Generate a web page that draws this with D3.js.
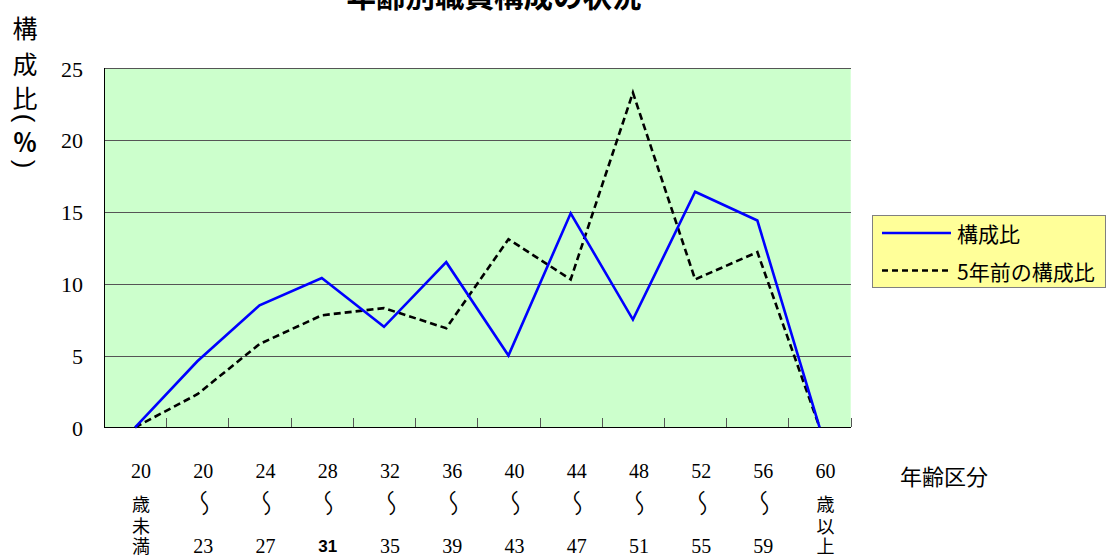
<!DOCTYPE html>
<html><head><meta charset="utf-8">
<script src="https://cdn.jsdelivr.net/npm/d3@7"></script>
<style>
html,body{margin:0;padding:0;background:#fff;}
svg{display:block;}
</style>
</head><body>
<svg id="chart" width="1110" height="556"></svg>
<script>
const categories = ["20歳未満","20〜23","24〜27","28〜31","32〜35","36〜39","40〜43","44〜47","48〜51","52〜55","56〜59","60歳以上"];
const current = [0,4.6,8.5,10.4,7.0,11.5,5.0,14.9,7.5,16.4,14.4,0];
const fiveYearsAgo = [0,2.3,5.8,7.8,8.3,6.9,13.1,10.3,23.3,10.3,12.2,0];
const yTicks = [0,5,10,15,20,25];
const seriesNames = ["構成比","5年前の構成比"];
const title = "年齢別職員構成の状況";
const yTitle = ["構","成","比","(","％",")"];
const xTitle = "年齢区分";

const JP = "'Noto Sans CJK JP', sans-serif";
const SERIF = "'Liberation Serif', 'DejaVu Serif', serif";

const svg = d3.select("#chart");
const L = 104, R = 850.7, T = 68.3, B = 427.3;

const x = d3.scaleBand().domain(categories).range([L, R]).padding(0);
const xb = d3.scaleLinear().domain([0, categories.length]).range([L, R]);
const y = d3.scaleLinear().domain([0, 25]).range([B, T]);
const cx = c => x(c) + x.bandwidth() / 2;

// plot background
svg.append("rect").attr("x", L).attr("y", T).attr("width", R - L).attr("height", B - T).attr("fill", "#CCFFCC");

// gridlines
const grid = svg.append("g").attr("transform", `translate(${L},0)`)
  .call(d3.axisLeft(y).tickValues(yTicks.filter(v => v > 0)).tickSize(-(R - L)).tickFormat(""));
grid.select(".domain").remove();
grid.selectAll("line").attr("stroke", "#555").attr("stroke-width", 1).attr("shape-rendering", "crispEdges");

// y tick labels
const yAx = svg.append("g").attr("transform", `translate(${L},0)`)
  .call(d3.axisLeft(y).tickValues(yTicks).tickSize(0).tickPadding(21));
yAx.select(".domain").remove();
yAx.selectAll("text").attr("font-family", SERIF).attr("font-size", 22).attr("fill", "#000").attr("dy", "0.35em");

// x boundary ticks (inside)
const xAx = svg.append("g").attr("transform", `translate(0,${B})`)
  .call(d3.axisBottom(xb).tickValues(d3.range(categories.length + 1)).tickSize(-9).tickFormat(""));
xAx.select(".domain").remove();
xAx.selectAll("line").attr("stroke", "#555").attr("shape-rendering", "crispEdges");

// axis lines
svg.append("line").attr("x1", L).attr("x2", L).attr("y1", T).attr("y2", B).attr("stroke", "#000").attr("shape-rendering", "crispEdges");
svg.append("line").attr("x1", L).attr("x2", R).attr("y1", B).attr("y2", B).attr("stroke", "#000").attr("shape-rendering", "crispEdges");

// lines
const line = d3.line().x((d, i) => cx(categories[i])).y(d => y(d));
svg.append("path").datum(fiveYearsAgo).attr("d", line).attr("fill", "none")
  .attr("stroke", "#000").attr("stroke-width", 2.6).attr("stroke-dasharray", "7,4");
svg.append("path").datum(current).attr("d", line).attr("fill", "none")
  .attr("stroke", "#0000FF").attr("stroke-width", 2.6);

// x labels
function splitLabel(s) {
  const m = s.match(/^(\d+)(.*)$/);
  const first = m[1], rest = m[2];
  if (rest.startsWith("〜")) return [first, "〜", rest.slice(1)];
  return [first, ...rest.split("")];
}
const labG = svg.append("g");
categories.forEach(c => {
  const parts = splitLabel(c);
  const ys = parts.length === 3 ? [471, 503, 546] : [471, 503, 524.5, 545];
  const px = cx(c) + 6;
  parts.forEach((p, i) => {
    const t = labG.append("text").attr("fill", "#000").attr("text-anchor", "middle").attr("dominant-baseline", "central").text(p);
    if (p === "〜") {
      t.attr("x", 0).attr("y", 0).attr("font-family", JP).attr("font-weight", 300).attr("font-size", 27)
        .attr("transform", `translate(${px},${ys[i]}) rotate(90) scale(1,-1)`);
    } else {
      t.attr("x", px).attr("y", ys[i]);
      if (/^\d+$/.test(p)) {
        if (p === "31") t.attr("font-family", "'Liberation Sans', Arial, sans-serif").attr("font-weight", "bold").attr("font-size", 17);
        else t.attr("font-family", SERIF).attr("font-size", 20);
      } else {
        t.attr("font-family", JP).attr("font-size", 18);
      }
    }
  });
});

// x title
svg.append("text").attr("x", 944).attr("y", 475).attr("text-anchor", "middle").attr("dominant-baseline", "central")
  .attr("font-family", JP).attr("font-size", 22).attr("fill", "#000").text(xTitle);

// y title
const yTitleY = [27, 63, 97, 118, 140, 164];
yTitle.forEach((ch, i) => {
  const t = svg.append("text").attr("x", 25).attr("y", yTitleY[i]).attr("text-anchor", "middle")
    .attr("dominant-baseline", "central").attr("fill", "#000").text(ch);
  if (ch === "(" || ch === ")") {
    t.attr("font-family", "'Liberation Sans', sans-serif").attr("font-size", 26)
      .attr("transform", `rotate(90,25,${yTitleY[i]})`);
  } else if (ch === "％") {
    t.attr("font-family", JP).attr("font-weight", "bold").attr("font-size", 24);
  } else {
    t.attr("font-family", JP).attr("font-size", 25);
  }
});

// title
svg.append("text").attr("x", 494).attr("y", -6).attr("text-anchor", "middle").attr("dominant-baseline", "central")
  .attr("font-family", JP).attr("font-weight", "bold").attr("font-size", 29.5).attr("fill", "#000").text(title);

// legend
const lg = svg.append("g");
lg.append("rect").attr("x", 872.5).attr("y", 215.5).attr("width", 233).attr("height", 72)
  .attr("fill", "#FFFF99").attr("stroke", "#808080").attr("stroke-width", 1);
const legendRows = [
  {name: seriesNames[0], color: "#0000FF", dash: null, y: 233},
  {name: seriesNames[1], color: "#000", dash: "6,4", y: 270.5}
];
legendRows.forEach(r => {
  lg.append("line").attr("x1", 882).attr("x2", 951).attr("y1", r.y).attr("y2", r.y)
    .attr("stroke", r.color).attr("stroke-width", 2.6).attr("stroke-dasharray", r.dash);
  lg.append("text").attr("x", 957).attr("y", r.y).attr("dominant-baseline", "central")
    .attr("font-family", JP).attr("font-size", 21).attr("fill", "#000").text(r.name);
});
</script>
</body></html>
